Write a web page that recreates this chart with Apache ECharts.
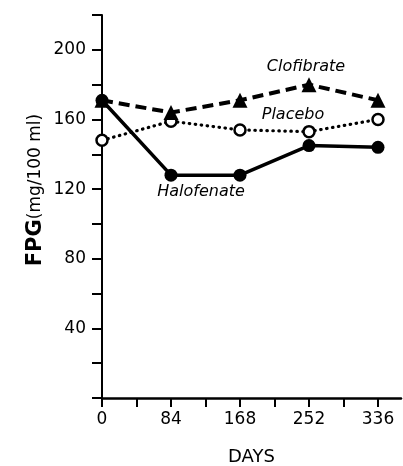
<!DOCTYPE html>
<html>
<head>
<meta charset="utf-8">
<script src="https://cdn.jsdelivr.net/npm/echarts@6/dist/echarts.min.js"></script>
<style>
  html, body { margin: 0; padding: 0; background: #fff; }
  #chart { width: 403px; height: 466px; }
</style>
</head>
<body>
<div id="chart"></div>
<script>
// days on study
const days = [0, 84, 168, 252, 336];
// fasting plasma glucose, mg/100 ml
const halofenate = [171, 128, 128, 145, 144];
const clofibrate = [171, 164, 171, 180, 171];
const placebo = [148, 159, 154, 153, 160];
const xTickLabels = [0, 84, 168, 252, 336];
const yTickLabels = [40, 80, 120, 160, 200];

const FONT = 'DejaVu Sans';

function pairs(vals) {
  return days.map((d, i) => [d, vals[i]]);
}

const chart = echarts.init(document.getElementById('chart'), null, { renderer: 'canvas' });

const option = {
  backgroundColor: '#fff',
  animation: false,
  grid: { left: 102, top: 15, right: 2, bottom: 68, outerBoundsMode: 'none' },
  xAxis: {
    type: 'value',
    min: 0,
    max: 364,
    interval: 42,
    name: 'DAYS',
    nameLocation: 'middle',
    nameGap: 50,
    nameTextStyle: { fontFamily: FONT, fontSize: 18, color: '#000' },
    splitLine: { show: false },
    axisLine: { lineStyle: { color: '#000', width: 2.5 } },
    axisTick: {
      length: 9,
      lineStyle: { color: '#000', width: 2 },
      customValues: [0, 42, 84, 126, 168, 210, 252, 294, 336]
    },
    axisLabel: {
      customValues: xTickLabels,
      margin: 13,
      fontFamily: FONT, fontSize: 17, color: '#000'
    }
  },
  yAxis: {
    type: 'value',
    min: 0,
    max: 220,
    interval: 20,
    splitLine: { show: false },
    axisLine: { lineStyle: { color: '#000', width: 2 } },
    axisTick: { length: 10, lineStyle: { color: '#000', width: 2 } },
    axisLabel: {
      customValues: yTickLabels,
      margin: 16,
      fontFamily: FONT, fontSize: 17, color: '#000'
    }
  },
  graphic: [
    {
      type: 'text',
      x: 36, y: 190,
      rotation: Math.PI / 2,
      style: {
        text: '{a|FPG}{b|(mg/100 ml)}',
        textAlign: 'center',
        textVerticalAlign: 'middle',
        fill: '#000',
        rich: {
          a: { fontFamily: FONT, fontSize: 21, fontWeight: 'bold', fill: '#000' },
          b: { fontFamily: FONT, fontSize: 17, fill: '#000' }
        }
      }
    },
    {
      type: 'text', x: 306, y: 67,
      style: { text: 'Clofibrate', font: 'italic 16px ' + FONT, textAlign: 'center', textVerticalAlign: 'middle', fill: '#000' }
    },
    {
      type: 'text', x: 293, y: 115,
      style: { text: 'Placebo', font: 'italic 16px ' + FONT, textAlign: 'center', textVerticalAlign: 'middle', fill: '#000' }
    },
    {
      type: 'text', x: 201, y: 192,
      style: { text: 'Halofenate', font: 'italic 16px ' + FONT, textAlign: 'center', textVerticalAlign: 'middle', fill: '#000' }
    }
  ],
  series: [
    {
      name: 'Placebo',
      type: 'line',
      data: pairs(placebo),
      z: 2,
      symbol: 'circle',
      symbolSize: 11,
      itemStyle: { color: '#fff', borderColor: '#000', borderWidth: 2.5 },
      lineStyle: { color: '#000', width: 3.2, type: [0.5, 5.5], cap: 'round' }
    },
    {
      name: 'Clofibrate',
      type: 'line',
      data: pairs(clofibrate),
      z: 3,
      symbol: 'triangle',
      symbolSize: 15,
      itemStyle: { color: '#000' },
      lineStyle: { color: '#000', width: 4, type: [11, 6] }
    },
    {
      name: 'Halofenate',
      type: 'line',
      data: pairs(halofenate),
      z: 4,
      symbol: 'circle',
      symbolSize: 13,
      itemStyle: { color: '#000' },
      lineStyle: { color: '#000', width: 3.5 }
    }
  ]
};

chart.setOption(option);
</script>
</body>
</html>
